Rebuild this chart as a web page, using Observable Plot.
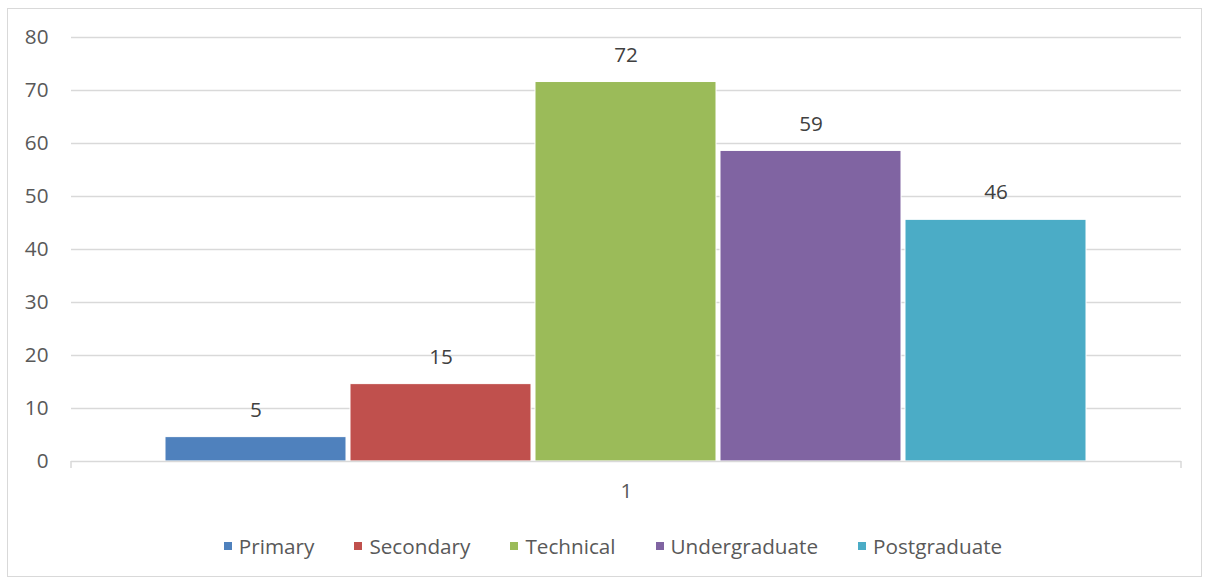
<!DOCTYPE html>
<html>
<head>
<meta charset="utf-8">
<script src="https://cdn.jsdelivr.net/npm/d3@7"></script>
<script src="https://cdn.jsdelivr.net/npm/@observablehq/plot@0.6"></script>
<style>
  html, body { margin: 0; padding: 0; background: #fff; }
  body { width: 1205px; height: 581px; position: relative; overflow: hidden; font-family: "Open Sans", sans-serif; }
  #frame { position: absolute; left: 7px; top: 8px; width: 1195px; height: 569px; border: 1px solid #d9d9d9; box-sizing: border-box; }
  #chart { position: absolute; left: 0; top: 0; }
  #legend { position: absolute; left: 0; top: 532px; width: 1226px; display: flex; justify-content: center; gap: 40px; font-size: 20.7px; color: #595959; }
  .item { display: flex; align-items: center; gap: 7px; }
  .sw { width: 8px; height: 8px; display: inline-block; }
</style>
</head>
<body>
<div id="frame"></div>
<div id="chart"></div>
<div id="legend"></div>
<script>
const series = ["Primary", "Secondary", "Technical", "Undergraduate", "Postgraduate"];
const values = [4.6, 14.6, 71.6, 58.6, 45.6];
const colors = ["#4f81bd", "#c0504d", "#9bbb59", "#8064a2", "#4bacc6"];
const categoryLabel = ["1"];
const yTicks = [0, 10, 20, 30, 40, 50, 60, 70, 80];

const data = series.map((s, i) => ({ series: s, value: values[i] }));

const plot = Plot.plot({
  width: 1205,
  height: 510,
  marginTop: 37,
  marginBottom: 49,
  marginLeft: 71,
  marginRight: 24,
  style: { fontFamily: "Open Sans, sans-serif", background: "transparent" },
  x: { domain: series, paddingInner: 0.02, paddingOuter: 0.51, axis: null },
  y: { domain: [0, 80], axis: null },
  color: { domain: series, range: colors },
  marks: [
    Plot.ruleY(yTicks.filter(d => d > 0), { stroke: "#d9d9d9", strokeWidth: 1.3 }),
    Plot.axisY({ ticks: yTicks, tickSize: 0, tickPadding: 23, fontSize: 20.7, color: "#595959", label: null }),
    Plot.barY(data, { x: "series", y: "value", fill: "series", stroke: "#fff", strokeWidth: 1 }),
    Plot.ruleY([0], { stroke: "#d9d9d9", strokeWidth: 1.5 }),
    Plot.text(data, { x: "series", y: "value", text: d => d3.format(".0f")(d.value), dy: -27, fontSize: 20.7, fill: "#404040" }),
    Plot.text(categoryLabel, { frameAnchor: "bottom", dy: 36, fontSize: 20.7, fill: "#595959" })
  ]
});
document.getElementById("chart").appendChild(plot);

// edge tick marks on the category axis
const svg = d3.select(plot);
const y0 = plot.scale("y").apply(0);
[71, 1205 - 24].forEach(x => {
  svg.append("line").attr("x1", x).attr("x2", x).attr("y1", y0).attr("y2", y0 + 7)
    .attr("stroke", "#d9d9d9").attr("stroke-width", 1.5);
});

const legend = d3.select("#legend");
series.forEach((s, i) => {
  const it = legend.append("div").attr("class", "item");
  it.append("span").attr("class", "sw").style("background", colors[i]);
  it.append("span").text(s);
});
</script>
</body>
</html>
